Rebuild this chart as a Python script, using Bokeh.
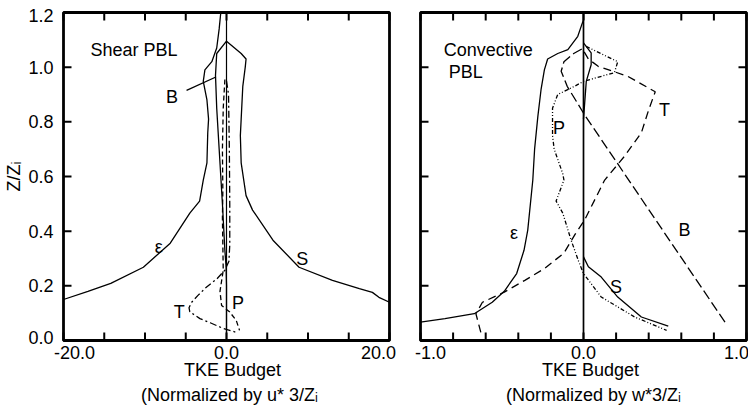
import numpy as np
from bokeh.plotting import figure
from bokeh.models import Label, Range1d
from bokeh.layouts import row
from bokeh.embed import file_html
from bokeh.resources import INLINE

FONT = "Liberation Sans"

# ---------------- data: Shear PBL (left panel) ----------------
shear_eps_x = [-20, -17, -14.2, -10.2, -6.9, -4.5, -3.3, -2.85, -2.4, -2.3, -2.2, -2.4, -2.85, -2.65, -1.8, -1.2, -0.9, -0.7]
shear_eps_z = [0.15, 0.18, 0.209, 0.268, 0.356, 0.466, 0.51, 0.587, 0.65, 0.76, 0.81, 0.88, 0.948, 0.99, 1.02, 1.07, 1.14, 1.2]
shear_S_x = [20, 18.7, 17.9, 16.3, 13, 8.9, 5.7, 3.2, 2.4, 1.8, 1.7, 1.8, 2.0, 2.3, 2.4, 1.8, 0]
shear_S_z = [0.14, 0.158, 0.176, 0.19, 0.22, 0.268, 0.367, 0.477, 0.53, 0.65, 0.75, 0.81, 0.93, 1.0, 1.03, 1.05, 1.095]
shear_B_x = [0, -1.2, -1.35, -1.2, -0.9, -0.5, -0.2, -0.05, 0, 0]
shear_B_z = [1.095, 1.05, 0.97, 0.85, 0.7, 0.5, 0.33, 0.27, 0.2, 0.0]
shear_T_x = [0.0, 0.25, 0.35, 0.4, 0.4, 0.3, -0.2, -1.2, -2.44, -3.5, -4.27, -4.6, -4.5, -3.26, -2.0, -0.4, 1.2]
shear_T_z = [0.95, 0.9, 0.7, 0.5, 0.35, 0.29, 0.257, 0.225, 0.196, 0.165, 0.14, 0.12, 0.105, 0.08, 0.065, 0.044, 0.03]
shear_P_x = [-0.2, -0.4, -0.5, -0.45, -0.5, -0.45, -0.4, -0.8, -0.6, 0.4, 1.2, 1.6]
shear_P_z = [0.955, 0.85, 0.7, 0.55, 0.45, 0.35, 0.257, 0.18, 0.128, 0.104, 0.073, 0.037]

# ---------------- data: Convective PBL (right panel) ----------------
conv_eps_x = [-1.0, -0.85, -0.67, -0.56, -0.486, -0.41, -0.365, -0.342, -0.311, -0.30, -0.28, -0.26, -0.24, -0.22, -0.158, -0.096, -0.035, 0.0, 0.0]
conv_eps_z = [0.067, 0.08, 0.098, 0.14, 0.18, 0.245, 0.33, 0.404, 0.587, 0.70, 0.82, 0.92, 0.99, 1.03, 1.05, 1.064, 1.113, 1.174, 1.2]
conv_T_x = [-0.63, -0.66, -0.62, -0.486, -0.36, -0.24, -0.12, -0.05, 0.006, 0.13, 0.25, 0.355, 0.40, 0.44, 0.27, 0.09, 0.03, 0.0]
conv_T_z = [0.03, 0.098, 0.14, 0.177, 0.22, 0.263, 0.32, 0.39, 0.44, 0.587, 0.673, 0.76, 0.844, 0.91, 0.967, 1.003, 1.03, 1.06]
conv_B_x = [0.868, 0.006, -0.10, -0.137, -0.12, -0.06, 0.0]
conv_B_z = [0.067, 0.826, 0.93, 0.985, 1.02, 1.05, 1.07]
conv_P_x = [0.016, 0.21, 0.19, 0.0, -0.055, -0.158, -0.19, -0.19, -0.18, -0.127, -0.12, -0.168, -0.127, -0.076, -0.03, 0.0, 0.109, 0.314, 0.51]
conv_P_z = [1.076, 1.02, 0.98, 0.948, 0.93, 0.90, 0.85, 0.75, 0.70, 0.61, 0.587, 0.51, 0.466, 0.367, 0.29, 0.245, 0.159, 0.086, 0.037]
conv_S_x = [0.0, 0.03, 0.109, 0.21, 0.355, 0.52, np.nan, 0.0, 0.047, 0.047, 0.017, 0.0]
conv_S_z = [0.306, 0.27, 0.232, 0.159, 0.086, 0.053, np.nan, 1.089, 1.052, 1.009, 0.948, 0.81]

# ---------------- ticks and tick labels ----------------
z_ticks = [0.0, 0.2, 0.4, 0.6, 0.8, 1.0, 1.2]
z_tick_labels = ["0.0", "0.2", "0.4", "0.6", "0.8", "1.0", "1.2"]
shear_x_ticks = [-20, -15, -10, -5, 0, 5, 10, 15, 20]
shear_x_label_vals = [-20, 0, 20]
shear_x_label_txt = ["-20.0", "0.0", "20.0"]
conv_x_ticks = [-1.0, -0.8, -0.6, -0.4, -0.2, 0.0, 0.2, 0.4, 0.6, 0.8, 1.0]
conv_x_label_vals = [-1.0, 0.0, 1.0]
conv_x_label_txt = ["-1.0", "0.0", "1.0"]

# curve annotations (text, x, z)
shear_notes = [("B", -6.7, 0.892), ("ε", -8.3, 0.341), ("S", 9.3, 0.30), ("T", -5.8, 0.103), ("P", 1.4, 0.139)]
shear_leader = ([-4.9], [0.915], [-1.3], [0.964])
conv_notes = [("T", 0.497, 0.844), ("P", -0.15, 0.778), ("ε", -0.427, 0.393), ("B", 0.62, 0.404), ("S", 0.20, 0.195)]

# ---------------- layout (pixels) ----------------
H = 411
W1, W2 = 405, 343
BOX_TOP, BOX_BOTTOM = 12, 340           # box edges, px from top
BOX1_L, BOX1_R = 63, 389                # left panel box, px from its left
BOX2_L, BOX2_R = 15, 341                # right panel box, px from its left
TICK_PX = 8
TS = "18px"
LW = 1.3


def make_fig(width, xmin, xmax, bl, br):
    ux = (xmax - xmin) / (br - bl)
    zmin, zmax = z_ticks[0], z_ticks[-1]
    uz = (zmax - zmin) / (BOX_BOTTOM - BOX_TOP)
    p = figure(width=width, height=H,
               x_range=Range1d(xmin - bl * ux, xmax + (width - br) * ux),
               y_range=Range1d(zmin - (H - BOX_BOTTOM) * uz, zmax + BOX_TOP * uz),
               x_axis_type=None, y_axis_type=None,
               output_backend="svg", toolbar_location=None,
               min_border=0, min_border_left=0, min_border_right=0, min_border_top=0, min_border_bottom=0)
    p.outline_line_color = None
    p.grid.visible = False
    p.background_fill_color = "white"
    p.border_fill_color = "white"
    return p, (TICK_PX * ux, TICK_PX * uz)


def draw_box(p, tk, xt, left_ticks=True, right_ticks=True, zero_w=1.2):
    xmin, xmax = xt[0], xt[-1]
    zmin, zmax = z_ticks[0], z_ticks[-1]
    tx, tz = tk
    p.segment(x0=xt, y0=[zmin] * len(xt), x1=xt, y1=[zmin + tz] * len(xt), line_color="black", line_width=2)
    p.segment(x0=xt, y0=[zmax] * len(xt), x1=xt, y1=[zmax - tz] * len(xt), line_color="black", line_width=2)
    if left_ticks:
        p.segment(x0=[xmin] * len(z_ticks), y0=z_ticks, x1=[xmin + tx] * len(z_ticks), y1=z_ticks,
                  line_color="black", line_width=2)
    if right_ticks:
        p.segment(x0=[xmax] * len(z_ticks), y0=z_ticks, x1=[xmax - tx] * len(z_ticks), y1=z_ticks,
                  line_color="black", line_width=2)
    p.segment(x0=[0], y0=[zmin], x1=[0], y1=[zmax], line_color="black", line_width=zero_w)
    p.quad(left=[xmin], right=[xmax], bottom=[zmin], top=[zmax], fill_color=None,
           line_color="black", line_width=2.8)


def txt(p, x, y, text, align="center", xo=0, yo=0, angle=0.0, size=TS):
    p.add_layout(Label(x=x, y=y, x_offset=xo, y_offset=yo, text=text, text_align=align,
                       text_baseline="middle", text_font=FONT, text_font_size=size,
                       text_color="black", angle=angle))


def bottom_texts(p, vals, labels, shifts, title, subtitle, tshift, sshift):
    for v, t, s in zip(vals, labels, shifts):
        txt(p, v, z_ticks[0], t, xo=s, yo=-12)
    txt(p, 0, z_ticks[0], title, xo=tshift, yo=-29)
    txt(p, 0, z_ticks[0], subtitle, xo=sshift, yo=-54)


# ---------------- left panel ----------------
p1, tk1 = make_fig(W1, shear_x_ticks[0], shear_x_ticks[-1], BOX1_L, BOX1_R)
draw_box(p1, tk1, shear_x_ticks, left_ticks=True, right_ticks=False, zero_w=1.2)
p1.line(shear_eps_x, shear_eps_z, line_color="black", line_width=LW)
p1.line(shear_S_x, shear_S_z, line_color="black", line_width=LW)
p1.line(shear_B_x, shear_B_z, line_color="black", line_width=LW)
p1.line(shear_T_x, shear_T_z, line_color="black", line_width=LW, line_dash="7 3 2 3")
p1.line(shear_P_x, shear_P_z, line_color="black", line_width=LW, line_dash="5 3")
p1.segment(x0=shear_leader[0], y0=shear_leader[1], x1=shear_leader[2], y1=shear_leader[3],
           line_color="black", line_width=LW)
for t, x, z in shear_notes:
    txt(p1, x, z, t)
txt(p1, -16.7, 1.064, "Shear PBL", align="left")
n = len(z_ticks)
for i, (z, lab) in enumerate(zip(z_ticks, z_tick_labels)):
    yo = 3 if i == 0 else (-3 if i == n - 1 else 0)
    txt(p1, shear_x_ticks[0], z, lab, align="right", xo=-10, yo=yo)
txt(p1, shear_x_ticks[0], (z_ticks[0] + z_ticks[-1]) / 2, "Z/Zᵢ", xo=-50, angle=np.pi / 2)
bottom_texts(p1, shear_x_label_vals, shear_x_label_txt, [11, 0, -11],
             "TKE Budget", "(Normalized by u* 3/Zᵢ", 6, 3)

# ---------------- right panel ----------------
p2, tk2 = make_fig(W2, conv_x_ticks[0], conv_x_ticks[-1], BOX2_L, BOX2_R)
draw_box(p2, tk2, conv_x_ticks, left_ticks=True, right_ticks=True, zero_w=1.7)
p2.line(conv_eps_x, conv_eps_z, line_color="black", line_width=LW)
p2.line(conv_S_x, conv_S_z, line_color="black", line_width=LW)
p2.line(conv_T_x, conv_T_z, line_color="black", line_width=LW, line_dash="8 5")
p2.line(conv_B_x, conv_B_z, line_color="black", line_width=LW, line_dash="10 4")
p2.line(conv_P_x, conv_P_z, line_color="black", line_width=LW, line_dash="4 2 1 2 1 2")
for t, x, z in conv_notes:
    txt(p2, x, z, t)
txt(p2, -0.858, 1.064, "Convective", align="left")
txt(p2, -0.826, 0.983, "PBL", align="left")
bottom_texts(p2, conv_x_label_vals, conv_x_label_txt, [10, 0, -10],
             "TKE Budget", "(Normalized by w*3/Zᵢ", 7, 10)

layout = row(p1, p2, spacing=0)
open("out.html", "w").write(file_html(layout, INLINE))
